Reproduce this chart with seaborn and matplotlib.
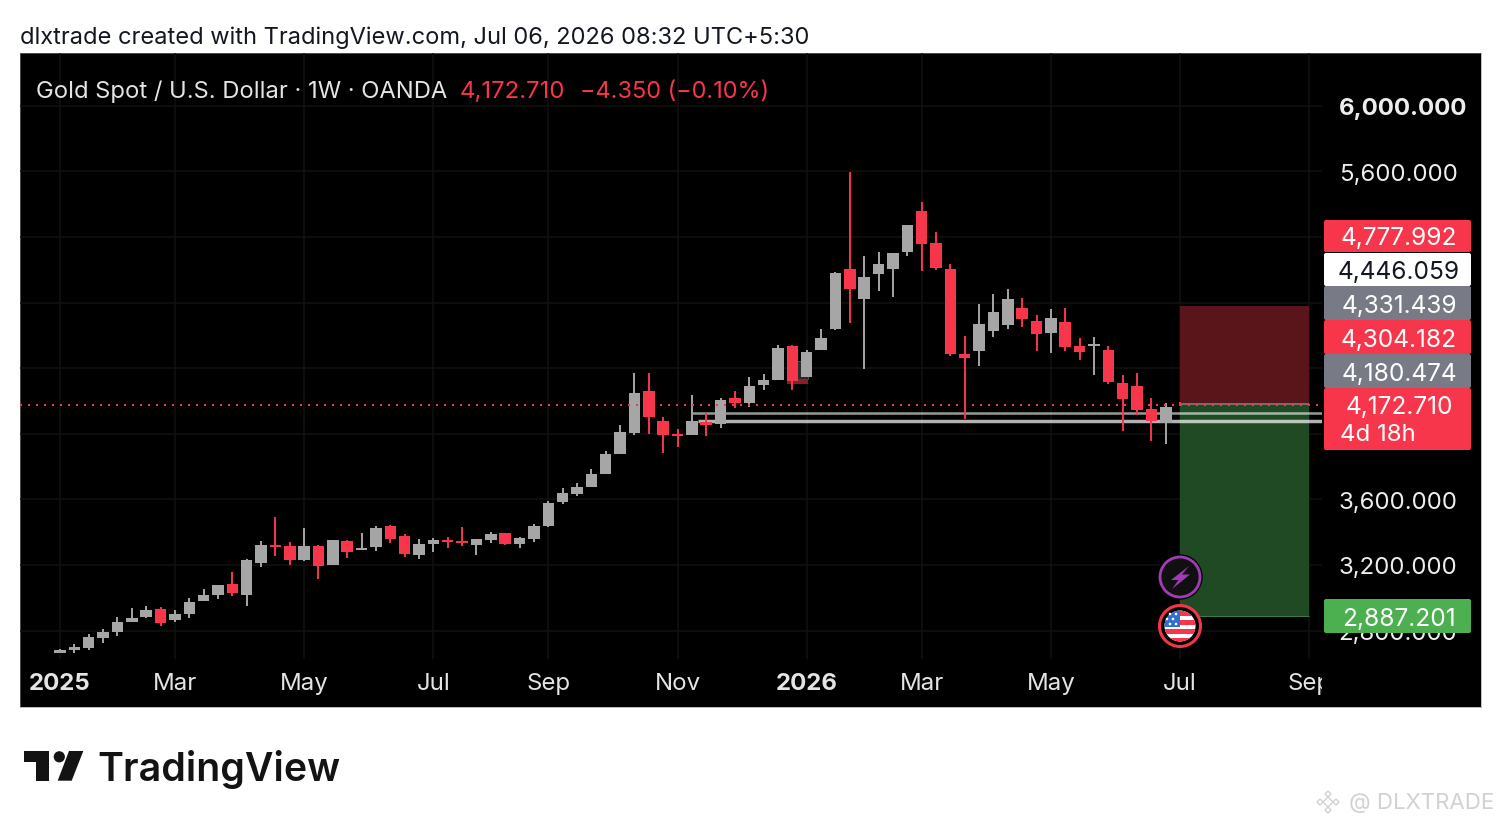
import numpy as np
import pandas as pd
import matplotlib
matplotlib.use("Agg")
import matplotlib.pyplot as plt
from matplotlib.patches import Rectangle, Circle, Polygon, FancyBboxPatch
import seaborn as sns

# weekly candles
opens = [2665, 2679, 2697, 2758, 2793, 2854, 2886, 2933, 2866, 2902, 2979, 3016, 3085, 3020, 3214, 3323,
         3317, 3229, 3317, 3203, 3345, 3293, 3307, 3435, 3378, 3262, 3331, 3354, 3345, 3319, 3354, 3394,
         3327, 3357, 3437, 3581, 3634, 3677, 3754, 3878, 4007, 4258, 4075, 3996, 3992, 4069, 4059, 4218,
         4187, 4295, 4330, 4533, 4346, 4513, 4637, 5007, 4824, 4976, 5007, 5106, 5358, 5161, 5007, 4484,
         4502, 4629, 4661, 4765, 4687, 4612, 4679, 4537, 4537, 4513, 4312, 4291, 4149, 4068, 4177.06]
closes = [2680, 2699, 2762, 2790, 2855, 2874, 2927, 2849, 2902, 2977, 3018, 3077, 3028, 3232, 3321, 3311,
          3229, 3317, 3193, 3350, 3278, 3305, 3427, 3357, 3266, 3329, 3350, 3339, 3333, 3357, 3390, 3327,
          3366, 3439, 3580, 3636, 3677, 3754, 3878, 4008, 4246, 4102, 3994, 3986, 4075, 4053, 4205, 4187,
          4291, 4330, 4525, 4319, 4501, 4586, 4980, 4885, 4956, 5037, 5100, 5271, 5159, 5009, 4488, 4464,
          4669, 4740, 4820, 4699, 4606, 4708, 4529, 4501, 4547, 4318, 4210, 4144, 4077, 4165, 4172.71]
highs = [2689, 2717, 2778, 2811, 2880, 2937, 2949, 2947, 2923, 2998, 3051, 3080, 3159, 3238, 3348, 3490,
         3343, 3427, 3320, 3354, 3350, 3398, 3439, 3443, 3386, 3357, 3362, 3372, 3431, 3360, 3403, 3397,
         3370, 3447, 3589, 3669, 3702, 3783, 3892, 4051, 4373, 4373, 4100, 4027, 4234, 4126, 4220, 4258,
         4344, 4364, 4543, 4541, 4509, 4637, 4984, 5593, 5084, 5108, 5103, 5274, 5411, 5230, 5037, 4594,
         4793, 4850, 4881, 4826, 4722, 4759, 4765, 4582, 4588, 4537, 4356, 4373, 4216, 4185, 4195]
lows = [2662, 2662, 2683, 2723, 2768, 2854, 2874, 2827, 2851, 2874, 2979, 2994, 3010, 2949, 3187, 3254,
        3197, 3227, 3116, 3197, 3240, 3291, 3284, 3333, 3248, 3235, 3278, 3301, 3317, 3262, 3337, 3321,
        3305, 3343, 3431, 3573, 3620, 3675, 3752, 3874, 3990, 3996, 3880, 3919, 3990, 3988, 4035, 4155,
        4163, 4265, 4326, 4269, 4344, 4511, 4635, 4673, 4394, 4873, 4834, 5086, 4990, 5001, 4472, 4092,
        4411, 4592, 4637, 4651, 4502, 4495, 4502, 4448, 4356, 4305, 4016, 4112, 3953, 3937, 4170]

month_pos = [0, 8, 17, 26, 34, 43, 52, 60, 69, 78, 87]
month_labels = ["2025", "Mar", "May", "Jul", "Sep", "Nov", "2026", "Mar", "May", "Jul", "Sep"]
price_ticks = [2800, 3200, 3600, 4000, 4400, 4800, 5200, 5600, 6000]
price_labels = ["2,800.000", "3,200.000", "3,600.000", "", "", "", "", "5,600.000", "6,000.000"]

last_price = 4172.71
stop_price = 4777.992
entry_price = 4180.474
target_price = 2887.201
old_top, old_entry, old_stop = 4446.059, 4331.439, 4304.182
level_a = 4125
level_b = 4080
tool_start, tool_end = 78, 87

RED = "#F7364C"
GRAY = "#A6A6A6"
W, H = 1501, 828
FONT = ["Inter", "DejaVu Sans"]

sns.set_theme(style="dark", rc={"axes.facecolor": "black", "figure.facecolor": "white"})
plt.rcParams["font.family"] = FONT

df = pd.DataFrame({"week": np.arange(len(opens)), "open": opens, "close": closes, "high": highs, "low": lows})
df["up"] = df["close"] >= df["open"]
df["base"] = df[["open", "close"]].min(axis=1)
df["body"] = (df["close"] - df["open"]).abs()

fig = plt.figure(figsize=(W / 100, H / 100), dpi=100)

# black pane behind everything
back = fig.add_axes([20 / W, 1 - 708 / H, 1461 / W, 654 / H], zorder=0)
back.set_facecolor("black")
back.set_xticks([])
back.set_yticks([])
for s in back.spines.values():
    s.set_color("#8a8a8a")
    s.set_linewidth(0.4)

ax = fig.add_axes([20 / W, 1 - 660 / H, 1302 / W, 606 / H], zorder=1)
ax.patch.set_alpha(0)

# candle wicks and bodies
for up, color in [(True, GRAY), (False, RED)]:
    part = df[df["up"] == up]
    ax.vlines(part["week"], part["low"], part["high"], color=color, lw=1.4, zorder=4)
    sns.barplot(data=part, x="week", y="body", bottom=part["base"].values, native_scale=True,
                color=color, saturation=1, width=0.8, errorbar=None, ax=ax, zorder=5, linewidth=0)

# risk / reward boxes of the position tool
ax.add_patch(Rectangle((tool_start, entry_price), tool_end - tool_start, stop_price - entry_price,
                       facecolor="#5A151B", edgecolor="none", zorder=2))
ax.add_patch(Rectangle((tool_start, target_price), tool_end - tool_start, entry_price - target_price,
                       facecolor="#1F4A24", edgecolor="none", zorder=2))
ax.hlines(entry_price, tool_start, tool_end, color="#777777", lw=1.3, zorder=3)
ax.hlines(target_price, tool_start, tool_end, color="#3C7A40", lw=0.8, zorder=3)

# small older position tool behind the December candles
ax.add_patch(Rectangle((50.6, old_entry), 1.5, old_top - old_entry, facecolor="#2A2A2A", edgecolor="#666666", lw=0.5, zorder=2))
ax.add_patch(Rectangle((50.6, old_stop), 1.5, old_entry - old_stop, facecolor="#8A1F2B", edgecolor="none", zorder=2))

# horizontal levels
ax.hlines(level_a, 44, 88, color="white", alpha=0.6, lw=1.8, zorder=3.5)
ax.hlines(level_b, 44.4, 88, color="white", alpha=0.7, lw=2.5, zorder=3.5)
ax.axhline(last_price, color=RED, lw=1.44, linestyle=(0, (1, 3)), zorder=6)

ax.set_xlim(-2.786, 87.88)
ax.set_ylim(2627, 6321)
ax.set_xticks(month_pos)
ax.set_xticklabels(month_labels)
ax.set_yticks(price_ticks)
ax.set_yticklabels(price_labels)
ax.yaxis.tick_right()
ax.set_xlabel("")
ax.set_ylabel("")
ax.grid(True, color="#121212", lw=1.1)
ax.set_axisbelow(True)
ax.tick_params(axis="x", length=0, pad=9.5, labelsize=17.3, labelcolor="#E4E4E4")
ax.tick_params(axis="y", length=0, pad=12, labelsize=17.3, labelcolor="#EDEDED")
for s in ax.spines.values():
    s.set_visible(False)
for lab in ax.get_xticklabels():
    if lab.get_text() in ("2025", "2026"):
        lab.set_fontweight("bold")
for lab in ax.get_yticklabels():
    if lab.get_text() == "6,000.000":
        lab.set_fontweight("bold")

# overlay in pixel coordinates for everything around the plot
ov = fig.add_axes([0, 0, 1, 1], zorder=3)
ov.set_xlim(0, W)
ov.set_ylim(H, 0)
ov.axis("off")
ov.patch.set_alpha(0)

# cuts off the Sep label like the pane does
ov.add_patch(Rectangle((1322, 665), 150, 38, facecolor="black", edgecolor="none"))

ov.text(20, 38, "dlxtrade created with TradingView.com, Jul 06, 2026 08:32 UTC+5:30",
        fontsize=17.0, color="#131722", va="center", ha="left")
ov.text(36, 92, "Gold Spot / U.S. Dollar · 1W · OANDA", fontsize=17.1, color="#E4E4E4", va="center", ha="left")
ov.text(460, 92, "4,172.710", fontsize=17.3, color=RED, va="center", ha="left")
ov.text(580, 92, "−4.350 (−0.10%)", fontsize=16.9, color=RED, va="center", ha="left")

# price tags on the right scale
tags = [(221, 253, 236, "4,777.992", RED, "white"),
        (254, 287, 270, "4,446.059", "white", "#131722"),
        (287, 321, 304, "4,331.439", "#787B86", "white"),
        (321, 355, 338, "4,304.182", RED, "white"),
        (355, 389, 372, "4,180.474", "#787B86", "white"),
        (389, 451, 405, "4,172.710", RED, "white"),
        (600, 634, 617, "2,887.201", "#4CAF50", "white")]
for top, bottom, mid, label, face, ink in tags:
    ov.add_patch(FancyBboxPatch((1324, top), 147, bottom - top, boxstyle="round,pad=0,rounding_size=2",
                                facecolor=face, edgecolor="none"))
    ov.text(1399, mid + 2.5, label, fontsize=17.6, color=ink, va="center", ha="center")
ov.text(1340, 435.5, "4d 18h", fontsize=17.3, color="white", va="center", ha="left")

# event badges
ov.add_patch(Circle((1180, 578), 22, facecolor="#131313", edgecolor="black", lw=1))
ov.add_patch(Circle((1180, 578), 20, facecolor="#101010", edgecolor="#A13BB8", lw=2))
ov.add_patch(Polygon([(1189, 567), (1171, 581), (1178.5, 581), (1172, 590), (1190, 575.5), (1182, 575.5)],
                     facecolor="#A13BB8", edgecolor="none"))
ov.add_patch(Circle((1180, 627), 20.5, facecolor="black", edgecolor="#F23645", lw=2.2))
disc = Circle((1180, 627), 15.5, facecolor="white", edgecolor="none")
ov.add_patch(disc)
for y0 in [611, 620, 629, 638]:
    r = Rectangle((1160, y0 + 1), 40, 4.5 if y0 < 638 else 6, facecolor="#F7364C", edgecolor="none")
    ov.add_patch(r)
    r.set_clip_path(disc)
canton = Rectangle((1160, 610), 20, 18, facecolor="#2F6FD0", edgecolor="none")
ov.add_patch(canton)
canton.set_clip_path(disc)
for sx, sy in [(1170, 615), (1176, 615), (1167, 620), (1173, 620), (1170, 625), (1176, 625)]:
    ov.add_patch(Circle((sx, sy), 1.3, facecolor="white", edgecolor="none"))

# TradingView logo
ov.add_patch(Polygon([(24, 752), (48.7, 752), (48.7, 781.7), (35.7, 781.7), (35.7, 763.3), (24, 763.3)],
                     facecolor="#131313", edgecolor="none"))
ov.add_patch(Circle((59.3, 757.8), 5.6, facecolor="#131313", edgecolor="none"))
ov.add_patch(Polygon([(69, 752), (83.3, 752), (71.7, 781.7), (57.7, 781.7)], facecolor="#131313", edgecolor="none"))
ov.text(97, 770, "TradingView", fontsize=28.3, fontweight="semibold", color="#131313", va="center", ha="left")

# watermark
for cx, cy, r in [(1328, 803, 5), (1320, 803, 3), (1336, 803, 3), (1328, 795, 3), (1328, 811, 3)]:
    ov.add_patch(Polygon([(cx - r, cy), (cx, cy - r), (cx + r, cy), (cx, cy + r)],
                         facecolor="none", edgecolor="#D2D2D2", lw=1))
ov.text(1349, 803, "@ DLXTRADE", fontsize=16, color="#D2D2D2", va="center", ha="left", clip_on=True)

fig.savefig("out.png", dpi=100)
